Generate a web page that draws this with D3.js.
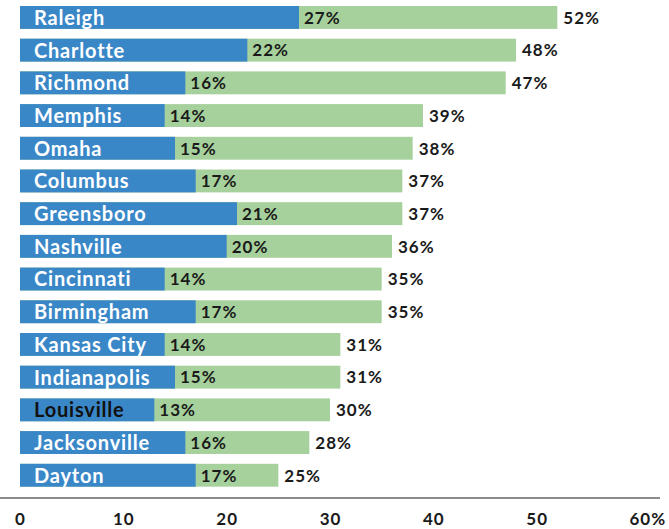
<!DOCTYPE html>
<html>
<head>
<meta charset="utf-8">
<script src="https://cdn.jsdelivr.net/npm/d3@7"></script>
<style>
  body { margin: 0; background: #fff; }
  svg text { font-family: Lato, "Open Sans", sans-serif; font-weight: bold; }
</style>
</head>
<body>
<div id="chart"></div>
<script>
var cities = ['Raleigh', 'Charlotte', 'Richmond', 'Memphis', 'Omaha', 'Columbus', 'Greensboro',
  'Nashville', 'Cincinnati', 'Birmingham', 'Kansas City', 'Indianapolis', 'Louisville',
  'Jacksonville', 'Dayton'];
var blueValues = [27, 22, 16, 14, 15, 17, 21, 20, 14, 17, 14, 15, 13, 16, 17];
var greenValues = [52, 48, 47, 39, 38, 37, 37, 36, 35, 35, 31, 31, 30, 28, 25];
var tickValues = [0, 10, 20, 30, 40, 50, 60];
var highlight = 'Louisville';

var w = 669,
h = 529;

var rows = cities.map(function (c, i) {
  return { city: c, blue: blueValues[i], green: greenValues[i] };
});

var svg = d3.select('#chart').
append('svg').
attr('width', w).
attr('height', h);

var x = d3.scaleLinear().domain([0, 60]).range([20, 640]);
var y = d3.scaleBand().domain(cities).range([1.1, 491.6]).paddingInner(0.3).paddingOuter(0.15);

var row = svg.selectAll('g.row').
data(rows).
enter().
append('g').
attr('class', 'row').
attr('transform', d => 'translate(0,' + y(d.city) + ')');

row.append('rect').
attr('x', x(0)).
attr('width', d => x(d.green) - x(0)).
attr('height', y.bandwidth()).
attr('fill', '#a6d19c');

row.append('rect').
attr('x', x(0)).
attr('width', d => x(d.blue) - x(0)).
attr('height', y.bandwidth()).
attr('fill', '#3a87c8');

row.append('text').
attr('x', 34).
attr('y', y.bandwidth() / 2).
attr('dy', '0.37em').
attr('font-size', 20).
attr('letter-spacing', 0.8).
attr('fill', d => d.city === highlight ? '#111' : '#fff').
text(d => d.city);

row.append('text').
attr('x', d => x(d.blue) + 5).
attr('y', y.bandwidth() / 2).
attr('dy', '0.37em').
attr('font-size', 17).
attr('letter-spacing', 1).
attr('fill', '#1a1a1a').
text(d => d.blue + '%');

row.append('text').
attr('x', d => x(d.green) + 6).
attr('y', y.bandwidth() / 2).
attr('dy', '0.37em').
attr('font-size', 17).
attr('letter-spacing', 1).
attr('fill', '#1a1a1a').
text(d => d.green + '%');

var axis = svg.append('g').
attr('transform', 'translate(0,498)').
call(d3.axisBottom(x).tickValues(tickValues).tickSize(0).tickPadding(15).
tickFormat(d => d === 60 ? '60%' : d));

axis.select('.domain').remove();
axis.selectAll('text').
attr('font-size', 17).
attr('letter-spacing', 1).
attr('fill', '#1a1a1a');
axis.selectAll('.tick').filter(d => d === 60).select('text').
attr('text-anchor', 'start').
attr('x', -11);

svg.append('line').
attr('x1', 0).
attr('x2', 660).
attr('y1', 498).
attr('y2', 498).
attr('stroke', '#666').
attr('stroke-width', 1.5);
</script>
</body>
</html>
